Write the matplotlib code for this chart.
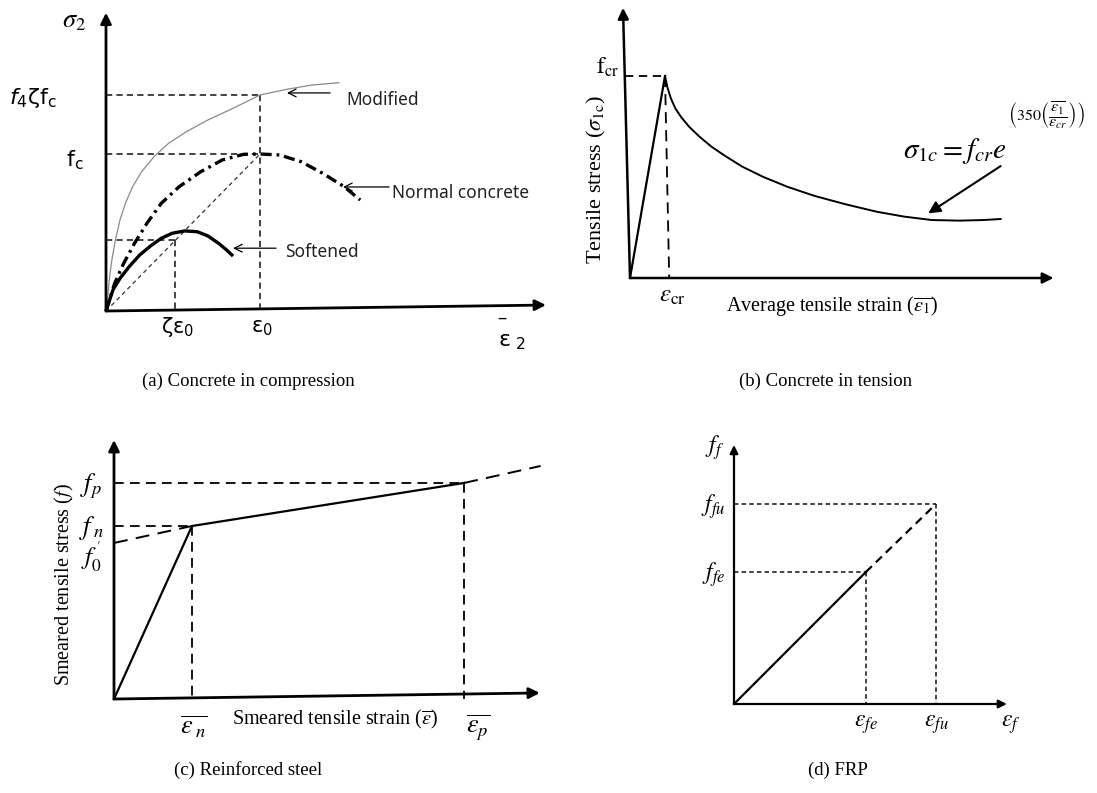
import matplotlib
matplotlib.use('Agg')
import matplotlib.pyplot as plt

plt.rcParams['lines.scale_dashes'] = False
plt.rcParams['mathtext.fontset'] = 'stix'
SERIF = ['Liberation Serif', 'DejaVu Serif']
SANS = ['Noto Sans', 'DejaVu Sans']

# ---------------- data (normalised units) ----------------
# (a) concrete in compression: strain / eps0, stress / fc
a_mod_x = [0, 0.01, 0.021, 0.038, 0.061, 0.091, 0.126, 0.173, 0.231, 0.312,
           0.406, 0.522, 0.662, 0.825, 1.0, 1.173, 1.336, 1.511]
a_mod_y = [0, 0.07, 0.197, 0.325, 0.452, 0.580, 0.686, 0.792, 0.887, 0.983,
           1.068, 1.142, 1.217, 1.291, 1.376, 1.412, 1.439, 1.454]
a_nc_x = [0, 0.056, 0.115, 0.185, 0.266, 0.359, 0.475, 0.615, 0.755, 0.894,
          1.0, 1.127, 1.267, 1.407, 1.546, 1.651]
a_nc_y = [0, 0.176, 0.304, 0.431, 0.559, 0.686, 0.792, 0.887, 0.962, 0.998,
          1.0, 0.994, 0.951, 0.877, 0.792, 0.707]
a_soft_x = [0, 0.045, 0.091, 0.150, 0.219, 0.289, 0.359, 0.429, 0.510, 0.592,
            0.662, 0.731, 0.778, 0.825]
a_soft_y = [0, 0.134, 0.208, 0.282, 0.357, 0.414, 0.463, 0.495, 0.510, 0.505,
            0.478, 0.431, 0.393, 0.350]
a_zeta = 0.45
a_eps0 = 1.0
a_fc = 1.0
a_f4zfc = 1.376
a_axis_end = (2.857, 0.038)
a_axis_top = 1.90

# (b) concrete in tension: strain / eps_cr, stress / f_cr
b_rise_x = [0, 1]
b_rise_y = [0, 1]
b_decay_x = [1.0, 1.069, 1.166, 1.294, 1.463, 1.689, 1.983, 2.328, 2.72, 3.21,
             3.80, 4.49, 5.28, 6.16, 7.05, 7.83, 8.62, 9.41, 10.10, 10.59]
b_decay_y = [1.0, 0.944, 0.890, 0.840, 0.796, 0.749, 0.700, 0.650, 0.604, 0.551,
             0.501, 0.452, 0.406, 0.365, 0.328, 0.304, 0.287, 0.284, 0.287, 0.292]
b_axis_end = 12.1
b_axis_top = (-0.2, 1.337)

# (c) reinforced steel: strain / eps_n, stress / f_n
c_x = [0, 1.0, 4.49]
c_y = [0, 1.0, 1.249]
c_pre_x = [0, 1.0]
c_pre_y = [0.902, 1.0]
c_post_x = [4.49, 5.47]
c_post_y = [1.249, 1.347]
c_axis_end = (5.46, 0.035)
c_axis_top = 1.497

# (d) FRP: strain / eps_fu, stress / f_fu
d_eps = [0, 0.653, 1.0]
d_f = [0, 0.66, 1.0]
d_axis_end = 1.351
d_axis_top = 1.295

W, H = 1097, 793
fig = plt.figure(figsize=(W / 100, H / 100), dpi=100)


def make_panel(box, origin, scale):
    l, t, r, b = box
    ox, oy = origin
    sx, sy = scale
    ax = fig.add_axes([l / W, 1 - b / H, (r - l) / W, (b - t) / H])
    ax.set_xlim((l - ox) / sx, (r - ox) / sx)
    ax.set_ylim((oy - b) / sy, (oy - t) / sy)
    ax.axis('off')
    return ax


def arrow(ax, start, end, lw=1.8, ms=16, style='-|>'):
    ax.annotate('', xy=end, xytext=start,
                arrowprops=dict(arrowstyle=style, lw=lw, color='k',
                                mutation_scale=ms, shrinkA=0, shrinkB=0),
                annotation_clip=False)


def lab(ax, s, xy, off, size, ha='center', va='center', family=SERIF,
        math='stix', **kw):
    return ax.annotate(s, xy=xy, xytext=(off[0] * 0.72, -off[1] * 0.72),
                       textcoords='offset points', ha=ha, va=va, fontsize=size,
                       family=family, math_fontfamily=math,
                       annotation_clip=False, **kw)


# ---------------- (a) ----------------
ax = make_panel((0, 0, 560, 395), (106, 311), (154, 157))
dsh = dict(color='#222', lw=1.2, ls=(0, (4.5, 3)))
ax.plot([0, a_eps0], [a_f4zfc, a_f4zfc], **dsh)
ax.plot([0, a_eps0], [a_fc, a_fc], **dsh)
ax.plot([a_eps0, a_eps0], [a_f4zfc, 0], **dsh)
ax.plot([0, a_zeta], [a_zeta * a_fc, a_zeta * a_fc], **dsh)
ax.plot([a_zeta, a_zeta], [a_zeta * a_fc, 0], **dsh)
ax.plot([0, a_eps0], [0, a_fc], color='#333', lw=0.9, ls=(0, (3, 2.5)))
ax.plot(a_mod_x, a_mod_y, color='#8a8a8a', lw=0.9, solid_joinstyle='round')
ax.plot(a_nc_x, a_nc_y, color='k', lw=2.4, ls=(0, (8, 3.5, 2, 3.5)))
ax.plot(a_soft_x, a_soft_y, color='k', lw=2.4, solid_capstyle='butt',
        solid_joinstyle='round')
arrow(ax, (0, 0), (0, a_axis_top), lw=2.0, ms=16)
arrow(ax, (0, 0), a_axis_end, lw=2.0, ms=16)

lab(ax, r'$\sigma_2$', (0, a_axis_top), (-32, 9), 19)
lab(ax, r'$f_4\mathrm{\zeta f_c}$', (0, a_f4zfc), (-49, 3), 16, ha='right',
    family=SANS, math='dejavusans')
lab(ax, r'$\mathrm{f_c}$', (0, a_fc), (-22, 6), 16, ha='right',
    family=SANS, math='dejavusans')
lab(ax, r'$\mathrm{\zeta\varepsilon_0}$', (a_zeta, 0), (2, 16), 15,
    family=SANS, math='dejavusans')
lab(ax, r'$\mathrm{\varepsilon_0}$', (a_eps0, 0), (2, 16), 15,
    family=SANS, math='dejavusans')
lab(ax, r'$\mathrm{\varepsilon}_{\ 2}$', a_axis_end, (-34, 36), 16,
    family=SANS, math='dejavusans')
lab(ax, '\u2013', a_axis_end, (-44, 14), 13, family=SANS)

txtkw = dict(fontsize=12.5, family=SANS, va='center', ha='left', color='#222')
arrow(ax, (1.455, 1.389), (1.175, 1.389), lw=0.9, ms=14, style='->')
ax.text(1.558, 1.344, 'Modified', **txtkw)
arrow(ax, (1.838, 0.79), (1.539, 0.79), lw=0.9, ms=14, style='->')
ax.text(1.857, 0.752, 'Normal concrete', **txtkw)
arrow(ax, (1.104, 0.40), (0.825, 0.40), lw=0.9, ms=14, style='->')
ax.text(1.162, 0.376, 'Softened', **txtkw)

# ---------------- (b) ----------------
ax = make_panel((560, 0, 1097, 395), (630, 278), (35, 202))
ax.plot([-0.15, 1], [1, 1], color='k', lw=1.3, ls=(0, (6, 4)))
ax.plot([1, 1.12], [1, 0], color='k', lw=1.3, ls=(0, (8, 5)))
ax.plot(b_rise_x, b_rise_y, color='k', lw=1.6)
ax.plot(b_decay_x, b_decay_y, color='k', lw=1.4, solid_joinstyle='round')
arrow(ax, (0, 0), b_axis_top, lw=1.8, ms=16)
arrow(ax, (0, 0), (b_axis_end, 0), lw=1.8, ms=16)
lab(ax, r'$\mathrm{f_{cr}}$', (0, 1), (-11, -9), 17, ha='right')
ax.text(-0.97, 0.485, r'Tensile stress ($\sigma_{1\mathrm{c}}$)', rotation=90,
        ha='center', va='center', fontsize=16, family=SERIF)
lab(ax, r'$\varepsilon_{\mathrm{cr}}$', (1, 0), (7, 18), 18)
ax.text(5.77, -0.14, r'Average tensile strain ($\overline{\varepsilon_1}$)',
        ha='center', va='center', fontsize=14.5, family=SERIF)
main_eq = ax.text(7.8, 0.594, r'$\sigma_{1c} = f_{cr}e$',
                  ha='left', va='baseline', fontsize=21, family=SERIF)
ax.annotate(r'$\left(350\left(\dfrac{\overline{\varepsilon_1}}'
            r'{\varepsilon_{cr}}\right)\right)$',
            xy=(1, 1), xycoords=main_eq, xytext=(1, 15),
            textcoords='offset points', ha='left', va='center',
            fontsize=11.5, family=SERIF, math_fontfamily='stix',
            annotation_clip=False)
arrow(ax, (10.59, 0.554), (8.52, 0.32), lw=1.5, ms=18)

# ---------------- (c) ----------------
ax = make_panel((0, 430, 560, 750), (114, 699), (78, 173))
dc = dict(color='k', lw=1.3, ls=(0, (7, 4.5)))
ax.plot([0, c_x[1]], [c_y[1], c_y[1]], **dc)
ax.plot([c_x[1], c_x[1]], [c_y[1], 0], **dc)
ax.plot([0, c_x[2]], [c_y[2], c_y[2]], **dc)
ax.plot([c_x[2], c_x[2]], [c_y[2], 0], **dc)
ax.plot(c_pre_x, c_pre_y, color='k', lw=1.4, ls=(0, (10, 6)))
ax.plot(c_post_x, c_post_y, color='k', lw=1.4, ls=(0, (10, 6)))
ax.plot(c_x, c_y, color='k', lw=1.6)
arrow(ax, (0, 0), (0, c_axis_top), lw=2.0, ms=16)
arrow(ax, (0, 0), c_axis_end, lw=2.0, ms=16)
lab(ax, r'$f_p$', (0, c_y[2]), (-12, 3), 19, ha='right')
lab(ax, r'$f_{\;n}$', (0, c_y[1]), (-9, 2), 19, ha='right')
lab(ax, r"$f_0^{\,'}$", (0, c_pre_y[0]), (-12, 14), 18, ha='right')
ax.text(-0.635, 0.659, r'Smeared tensile stress ($f$)', rotation=90,
        ha='center', va='center', fontsize=14.5, family=SERIF)
lab(ax, r'$\overline{\varepsilon_{\;n}}$', (c_x[1], 0), (2, 28), 19)
ax.text(2.83, -0.121, r'Smeared tensile strain ($\overline{\varepsilon}$)',
        ha='center', va='center', fontsize=14.5, family=SERIF)
lab(ax, r'$\overline{\varepsilon_p}$', (c_x[2], 0), (14, 29), 19)

# ---------------- (d) ----------------
ax = make_panel((560, 430, 1097, 750), (734, 704), (202, 200))
dd = dict(color='#222', lw=1.2, ls=(0, (3.2, 2.3)))
ax.plot([0, d_eps[2]], [d_f[2], d_f[2]], **dd)
ax.plot([d_eps[2], d_eps[2]], [d_f[2], 0], **dd)
ax.plot([0, d_eps[1]], [d_f[1], d_f[1]], **dd)
ax.plot([d_eps[1], d_eps[1]], [d_f[1], 0], **dd)
ax.plot(d_eps[:2], d_f[:2], color='k', lw=1.6)
ax.plot(d_eps[1:], d_f[1:], color='k', lw=1.6, ls=(0, (6, 4)))
arrow(ax, (0, 0), (0, d_axis_top), lw=1.6, ms=12)
arrow(ax, (0, 0), (d_axis_end, 0), lw=1.6, ms=12)
lab(ax, r'$f_f$', (0, d_axis_top), (-19, 3), 17)
lab(ax, r'$f_{fu}$', (0, d_f[2]), (-9, 3), 17, ha='right')
lab(ax, r'$f_{fe}$', (0, d_f[1]), (-9, 3), 17, ha='right')
lab(ax, r'$\varepsilon_{fe}$', (d_eps[1], 0), (0, 21), 17)
lab(ax, r'$\varepsilon_{fu}$', (d_eps[2], 0), (0, 21), 17)
lab(ax, r'$\varepsilon_f$', (d_axis_end, 0), (4, 21), 17)

# ---------------- captions ----------------
caps = ['(a) Concrete in compression', '(b) Concrete in tension',
        '(c) Reinforced steel', '(d) FRP']
cap_pos = [(248, 381), (826, 381), (248, 770), (838, 770)]
for s, (x, y) in zip(caps, cap_pos):
    fig.text(x / W, 1 - y / H, s, ha='center', va='center', fontsize=13.5,
             family=SERIF)

fig.savefig('out.png', dpi=100)
